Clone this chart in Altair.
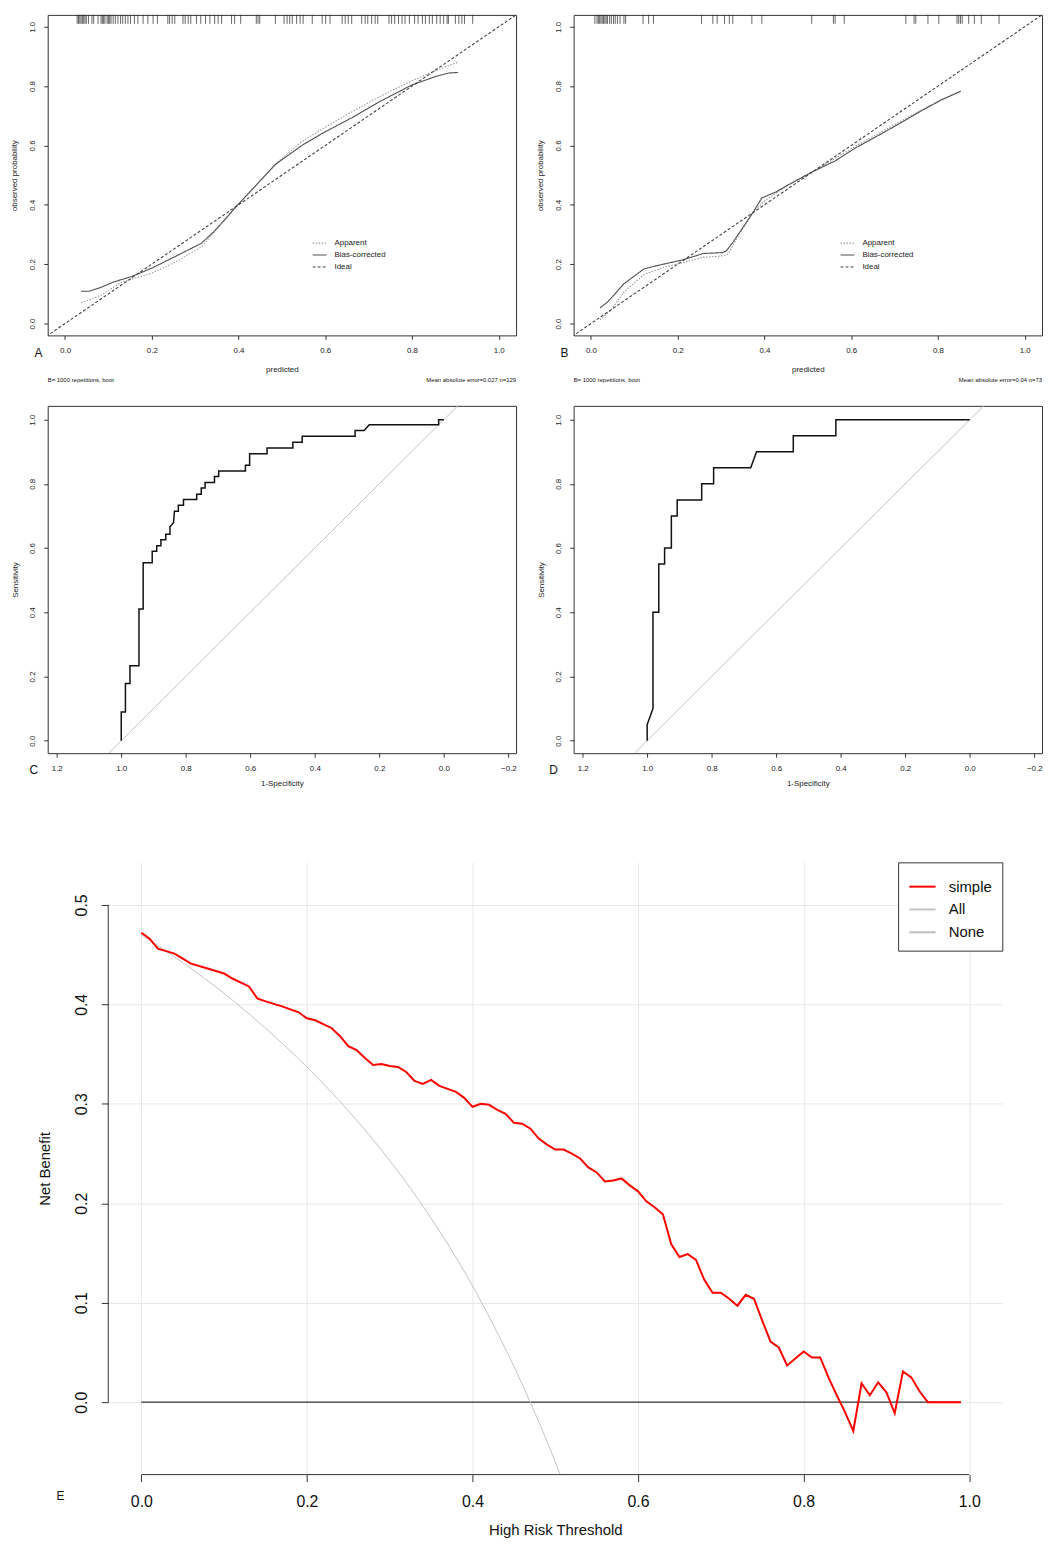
import altair as alt
import pandas as pd

FONT = "Liberation Sans"

# ---------------- data ----------------
TICKS_01 = [0.0, 0.2, 0.4, 0.6, 0.8, 1.0]
TICKS_ROC = [-0.2, 0.0, 0.2, 0.4, 0.6, 0.8, 1.0, 1.2]
TICKS_NB = [0.0, 0.1, 0.2, 0.3, 0.4, 0.5]
CAL_SERIES = ["Apparent", "Bias-corrected", "Ideal"]
DCA_SERIES = ["simple", "All", "None"]

# Panel A (calibration, training)
a_rug = [0.028, 0.031, 0.034, 0.037, 0.040, 0.043, 0.046, 0.049, 0.054, 0.062, 0.066,
         0.076, 0.083, 0.086, 0.089, 0.092, 0.097, 0.100, 0.103, 0.106, 0.111, 0.116,
         0.122, 0.128, 0.133, 0.139, 0.145, 0.151, 0.160, 0.168, 0.180, 0.191, 0.203,
         0.213, 0.237, 0.241, 0.247, 0.253, 0.272, 0.277, 0.284, 0.290, 0.303, 0.313,
         0.324, 0.334, 0.345, 0.353, 0.361, 0.384, 0.391, 0.405, 0.441, 0.445, 0.449,
         0.485, 0.505, 0.512, 0.518, 0.524, 0.534, 0.542, 0.549, 0.570, 0.593, 0.601,
         0.611, 0.639, 0.646, 0.653, 0.661, 0.684, 0.692, 0.698, 0.707, 0.715, 0.721,
         0.747, 0.753, 0.760, 0.769, 0.777, 0.784, 0.794, 0.806, 0.814, 0.824, 0.831,
         0.840, 0.847, 0.857, 0.865, 0.873, 0.881, 0.884, 0.900, 0.908, 0.915, 0.921, 0.940]
a_app_x = [0.037, 0.083, 0.129, 0.199, 0.253, 0.314, 0.353, 0.399, 0.445, 0.492, 0.545,
           0.592, 0.661, 0.723, 0.800, 0.854, 0.908]
a_app_y = [0.070, 0.095, 0.139, 0.169, 0.206, 0.258, 0.323, 0.401, 0.473, 0.546, 0.612,
           0.655, 0.713, 0.763, 0.818, 0.852, 0.882]
a_bias_x = [0.037, 0.056, 0.083, 0.114, 0.153, 0.199, 0.253, 0.314, 0.345, 0.399, 0.438,
            0.484, 0.545, 0.592, 0.661, 0.723, 0.800, 0.854, 0.884, 0.906]
a_bias_y = [0.109, 0.109, 0.122, 0.141, 0.158, 0.186, 0.225, 0.270, 0.312, 0.401, 0.462,
            0.535, 0.599, 0.640, 0.693, 0.746, 0.804, 0.832, 0.844, 0.846]

# Panel B (calibration, validation)
b_rug = [0.009, 0.014, 0.017, 0.020, 0.023, 0.026, 0.029, 0.032, 0.035, 0.038, 0.043,
         0.047, 0.052, 0.056, 0.061, 0.067, 0.076, 0.080, 0.120, 0.133, 0.144, 0.255,
         0.281, 0.291, 0.308, 0.319, 0.327, 0.371, 0.394, 0.509, 0.559, 0.563, 0.584,
         0.726, 0.745, 0.749, 0.777, 0.802, 0.844, 0.848, 0.852, 0.856, 0.871, 0.884,
         0.900, 0.941]
b_app_x = [0.021, 0.046, 0.076, 0.122, 0.167, 0.213, 0.259, 0.304, 0.316, 0.342, 0.373,
           0.399, 0.456, 0.509, 0.563, 0.608, 0.684, 0.760, 0.806, 0.853]
b_app_y = [0.013, 0.045, 0.106, 0.165, 0.189, 0.206, 0.223, 0.228, 0.234, 0.301, 0.373,
           0.412, 0.468, 0.510, 0.557, 0.596, 0.657, 0.718, 0.754, 0.783]
b_bias_x = [0.021, 0.038, 0.076, 0.122, 0.152, 0.213, 0.259, 0.304, 0.312, 0.327, 0.350,
            0.373, 0.394, 0.426, 0.456, 0.509, 0.563, 0.608, 0.684, 0.760, 0.806, 0.853]
b_bias_y = [0.053, 0.072, 0.134, 0.184, 0.195, 0.215, 0.236, 0.239, 0.245, 0.273, 0.323,
            0.373, 0.423, 0.443, 0.468, 0.510, 0.548, 0.590, 0.651, 0.715, 0.752, 0.783]

ideal_x = [-0.1, 1.1]
ideal_y = [-0.1, 1.1]

# Panel C (ROC, training)
c_spec = [1.0, 1.0, 0.987, 0.987, 0.973, 0.973, 0.945, 0.945, 0.932, 0.932, 0.904, 0.904,
          0.890, 0.890, 0.877, 0.877, 0.862, 0.862, 0.849, 0.849, 0.838, 0.835, 0.823, 0.823,
          0.807, 0.807, 0.766, 0.766, 0.752, 0.752, 0.740, 0.740, 0.711, 0.711, 0.698, 0.698,
          0.615, 0.615, 0.602, 0.602, 0.548, 0.548, 0.468, 0.468, 0.439, 0.439, 0.275, 0.275,
          0.247, 0.231, 0.016, 0.016, 0.0]
c_sens = [0.0, 0.089, 0.089, 0.178, 0.178, 0.233, 0.233, 0.410, 0.410, 0.554, 0.554, 0.590,
          0.590, 0.607, 0.607, 0.626, 0.626, 0.643, 0.643, 0.666, 0.679, 0.715, 0.715, 0.733,
          0.733, 0.751, 0.751, 0.768, 0.768, 0.787, 0.787, 0.804, 0.804, 0.823, 0.823, 0.840,
          0.840, 0.858, 0.858, 0.894, 0.894, 0.912, 0.912, 0.930, 0.930, 0.948, 0.948, 0.966,
          0.966, 0.984, 0.984, 1.0, 1.0]

# Panel D (ROC, validation)
d_spec = [1.0, 1.0, 0.982, 0.982, 0.964, 0.964, 0.946, 0.946, 0.925, 0.925, 0.907, 0.907,
          0.831, 0.831, 0.794, 0.794, 0.679, 0.661, 0.547, 0.547, 0.415, 0.415, 0.0]
d_sens = [0.0, 0.05, 0.10, 0.40, 0.40, 0.55, 0.55, 0.60, 0.60, 0.70, 0.70, 0.75,
          0.75, 0.80, 0.80, 0.85, 0.85, 0.90, 0.90, 0.95, 0.95, 1.0, 1.0]

chance_spec = [1.1, -0.1]
chance_sens = [-0.1, 1.1]

# Panel E (decision curve)
e_thr = [0.00, 0.01, 0.02, 0.04, 0.05, 0.06, 0.08, 0.10, 0.11, 0.13, 0.14, 0.15, 0.17, 0.19,
         0.20, 0.21, 0.23, 0.24, 0.25, 0.26, 0.27, 0.28, 0.29, 0.30, 0.31, 0.32, 0.33, 0.34,
         0.35, 0.36, 0.37, 0.38, 0.39, 0.40, 0.41, 0.42, 0.43, 0.44, 0.45, 0.46, 0.47, 0.48,
         0.49, 0.50, 0.51, 0.52, 0.53, 0.54, 0.55, 0.56, 0.57, 0.58, 0.59, 0.60, 0.61, 0.62,
         0.63, 0.64, 0.65, 0.66, 0.67, 0.68, 0.69, 0.70, 0.71, 0.72, 0.73, 0.74, 0.75, 0.76,
         0.77, 0.78, 0.79, 0.80, 0.81, 0.82, 0.83, 0.84, 0.85, 0.86, 0.87, 0.88, 0.89, 0.90,
         0.91, 0.92, 0.93, 0.94, 0.95, 0.99]
e_simple = [0.472, 0.466, 0.456, 0.451, 0.446, 0.441, 0.436, 0.431, 0.426, 0.418, 0.406, 0.403,
            0.398, 0.392, 0.386, 0.384, 0.376, 0.368, 0.358, 0.354, 0.346, 0.339, 0.340, 0.338,
            0.337, 0.332, 0.323, 0.320, 0.324, 0.318, 0.315, 0.312, 0.306, 0.297, 0.300, 0.299,
            0.294, 0.290, 0.281, 0.280, 0.275, 0.265, 0.259, 0.254, 0.254, 0.250, 0.245, 0.236,
            0.231, 0.222, 0.223, 0.225, 0.218, 0.212, 0.202, 0.196, 0.189, 0.159, 0.146, 0.149,
            0.143, 0.123, 0.110, 0.110, 0.104, 0.097, 0.108, 0.104, 0.082, 0.061, 0.055, 0.037,
            0.044, 0.051, 0.045, 0.045, 0.025, 0.007, -0.010, -0.029, 0.019, 0.007, 0.020, 0.010,
            -0.011, 0.031, 0.025, 0.011, 0.000, 0.000]
e_all_thr = [0.0, 0.05, 0.10, 0.15, 0.20, 0.25, 0.30, 0.35, 0.40, 0.425, 0.45, 0.475, 0.50, 0.52]
e_all = [0.470, 0.442, 0.411, 0.376, 0.337, 0.293, 0.243, 0.185, 0.117, 0.078, 0.036, -0.010,
         -0.060, -0.104]
e_none_thr = [0.0, 0.99]
e_none = [0.0, 0.0]

# ---------------- layout constants ----------------
W_AB, H_AB = 472, 323
W_CD, H_CD = 472, 350
W_E, H_E = 901, 617
E_OFF = 61                  # E plot starts this far right of panels A/C
GAP_COL, GAP_R1, GAP_R2 = 58, 69, 108
LEFT_AC = 39                # distance from page content edge to plot left
CAL_DOM = [-0.04, 1.04]
ROC_XDOM = [-0.224, 1.228]
ROC_YDOM = [-0.039, 1.043]
E_XDOM = [-0.04, 1.04]
E_YDOM = [-0.0728, 0.5428]
FRAME = alt.ViewBackground(stroke="#333333", strokeWidth=1)


def ax(**kw):
    base = dict(labelFont=FONT, titleFont=FONT, labelColor="#222222", titleColor="#222222",
                titleFontWeight="normal", labelFlush=False, labelOverlap=False, labelBound=False,
                tickColor="#333333", domain=False)
    base.update(kw)
    return alt.Axis(**base)


def text_layer(x, y, s, X, Y, size, align):
    df = pd.DataFrame({"x": [x], "y": [y], "t": [s]})
    return alt.Chart(df).mark_text(font=FONT, fontSize=size, align=align, baseline="middle",
                                   color="#111111").encode(x=X("x"), y=Y("y"), text="t:N")


def pin(px, py):
    # invisible layout anchor (fixes the extent of a row for the layout)
    return alt.Chart(pd.DataFrame({"v": [0]})).mark_point(size=1, opacity=0).encode(
        x=alt.value(px), y=alt.value(py))


def calib_panel(rug, app_x, app_y, bias_x, bias_y, letter, mae, legx, anchor):
    xs = alt.Scale(domain=CAL_DOM, nice=False, zero=False)
    ys = alt.Scale(domain=CAL_DOM, nice=False, zero=False)
    xax = ax(values=TICKS_01, format=".1f", grid=False, tickSize=4, labelPadding=7, labelFontSize=8,
             title="predicted", titleFontSize=8, titleX=W_AB / 2, titleY=34,
             titleBaseline="middle", titleAlign="center")
    yax = ax(values=TICKS_01, format=".1f", grid=False, tickSize=4, labelPadding=7, labelFontSize=8,
             labelAngle=-90, labelAlign="center", labelBaseline="bottom",
             title="observed probability", titleFontSize=8, titleX=-33, titleY=H_AB / 2,
             titleBaseline="middle", titleAlign="center")

    def X(f):
        return alt.X(f"{f}:Q", scale=xs, axis=xax)

    def Y(f):
        return alt.Y(f"{f}:Q", scale=ys, axis=yax)

    df = pd.DataFrame({
        "x": app_x + bias_x + ideal_x,
        "y": app_y + bias_y + ideal_y,
        "series": ["Apparent"] * len(app_x) + ["Bias-corrected"] * len(bias_x) + ["Ideal"] * len(ideal_x),
        "order": list(range(len(app_x))) + list(range(len(bias_x))) + list(range(len(ideal_x))),
    })
    leg = alt.Legend(title=None, orient="none", legendX=legx, legendY=222, symbolType="stroke",
                     symbolSize=196, symbolStrokeWidth=1.1, labelFont=FONT, labelFontSize=8,
                     labelColor="#222222", labelOffset=7, rowPadding=-1, padding=0)
    lines = alt.Chart(df).mark_line(clip=True, strokeWidth=1.1).encode(
        x=X("x"), y=Y("y"),
        color=alt.Color("series:N", scale=alt.Scale(domain=CAL_SERIES,
                        range=["#9a9a9a", "#505050", "#404040"]), legend=leg),
        strokeDash=alt.StrokeDash("series:N", scale=alt.Scale(domain=CAL_SERIES,
                                  range=[[1.5, 1.5], [1, 0], [3, 2]]), legend=leg),
        order="order:Q",
    )
    rugl = alt.Chart(pd.DataFrame({"x": rug})).mark_rule(color="#222222", strokeWidth=0.7).encode(
        x=X("x"), y=alt.value(0), y2=alt.value(9))
    layers = [
        lines, rugl,
        text_layer(-0.061, -0.10, letter, X, Y, 12, "center"),
        text_layer(-0.04, -0.19, "B= 1000 repetitions, boot", X, Y, 6, "left"),
        text_layer(1.04, -0.19, mae, X, Y, 6, "right"),
    ]
    if anchor:
        layers.append(pin(-LEFT_AC, H_AB + GAP_R1))
    return alt.layer(*layers).properties(width=W_AB, height=H_AB, view=FRAME)


def roc_panel(spec, sens, letter, letter_x, anchor):
    xs = alt.Scale(domain=ROC_XDOM, reverse=True, nice=False, zero=False)
    ys = alt.Scale(domain=ROC_YDOM, nice=False, zero=False)
    xax = ax(values=TICKS_ROC, format=".1f", grid=False, tickSize=4, labelPadding=7, labelFontSize=8,
             title="1-Specificity", titleFontSize=8, titleX=W_CD / 2, titleY=31,
             titleBaseline="middle", titleAlign="center")
    yax = ax(values=TICKS_01, format=".1f", grid=False, tickSize=4, labelPadding=7, labelFontSize=8,
             labelAngle=-90, labelAlign="center", labelBaseline="bottom",
             title="Sensitivity", titleFontSize=8, titleX=-32, titleY=H_CD / 2,
             titleBaseline="middle", titleAlign="center")

    def X(f):
        return alt.X(f"{f}:Q", scale=xs, axis=xax)

    def Y(f):
        return alt.Y(f"{f}:Q", scale=ys, axis=yax)

    chance = alt.Chart(pd.DataFrame({"x": chance_spec, "y": chance_sens})).mark_line(
        clip=True, color="#c4c4c4", strokeWidth=1).encode(x=X("x"), y=Y("y"))
    curve = alt.Chart(pd.DataFrame({"x": spec, "y": sens, "o": list(range(len(spec)))})).mark_line(
        color="#111111", strokeWidth=1.5).encode(x=X("x"), y=Y("y"), order="o:Q")
    layers = [chance, curve, text_layer(letter_x, -0.0915, letter, X, Y, 12, "center")]
    if anchor:
        layers.append(pin(-LEFT_AC, H_CD + GAP_R2))
    return alt.layer(*layers).properties(width=W_CD, height=H_CD, view=FRAME)


def dca_panel():
    xs = alt.Scale(domain=E_XDOM, range=[E_OFF, E_OFF + W_E], nice=False, zero=False)
    ys = alt.Scale(domain=E_YDOM, nice=False, zero=False)
    xax = ax(values=TICKS_01, format=".1f", grid=True, gridColor="#e8e8e8", tickSize=7,
             labelPadding=12, labelFontSize=16, labelColor="#111111",
             title="High Risk Threshold", titleFontSize=15, titleX=E_OFF + W_E / 2, titleY=55,
             titleBaseline="middle", titleAlign="center", titleColor="#111111")
    yax = ax(values=TICKS_NB, format=".1f", grid=True, gridColor="#e8e8e8", tickSize=7,
             labelPadding=12, labelFontSize=16, labelColor="#111111", offset=-E_OFF,
             labelAngle=-90, labelAlign="center", labelBaseline="bottom",
             title="Net Benefit", titleFontSize=15, titleX=-64, titleY=H_E / 2,
             titleBaseline="middle", titleAlign="center", titleColor="#111111")

    def X(f):
        return alt.X(f"{f}:Q", scale=xs, axis=xax)

    def Y(f):
        return alt.Y(f"{f}:Q", scale=ys, axis=yax)

    cscale = alt.Scale(domain=DCA_SERIES, range=["#ff0000", "#c4c4c4", "#bdbdbd"])
    leg = alt.Legend(title=None, orient="top-right", offset=0, padding=10, strokeColor="#333333",
                     fillColor="#ffffff", symbolType="stroke", symbolSize=700, symbolStrokeWidth=2,
                     labelFont=FONT, labelFontSize=15, labelColor="#111111", labelOffset=12,
                     rowPadding=-5)
    none_line = alt.Chart(pd.DataFrame({"x": e_none_thr, "y": e_none})).mark_line(
        color="#333333", strokeWidth=1.3).encode(x=X("x"), y=Y("y"))
    all_line = alt.Chart(pd.DataFrame({"x": e_all_thr, "y": e_all, "s": ["All"] * len(e_all)})).mark_line(
        clip=True, strokeWidth=1, interpolate="monotone").encode(
        x=X("x"), y=Y("y"), color=alt.Color("s:N", scale=cscale, legend=leg))
    simple_line = alt.Chart(pd.DataFrame({"x": e_thr, "y": e_simple, "s": ["simple"] * len(e_thr)})).mark_line(
        clip=True, strokeWidth=2).encode(
        x=X("x"), y=Y("y"), color=alt.Color("s:N", scale=cscale, legend=leg))
    xline = alt.Chart(pd.DataFrame({"x": [TICKS_01[0]], "x2": [TICKS_01[-1]]})).mark_rule(
        color="#333333", strokeWidth=1).encode(x=X("x"), x2="x2:Q", y=alt.value(H_E))
    yline = alt.Chart(pd.DataFrame({"y": [TICKS_NB[0]], "y2": [TICKS_NB[-1]]})).mark_rule(
        color="#333333", strokeWidth=1).encode(y=Y("y"), y2="y2:Q", x=alt.value(E_OFF))
    return alt.layer(
        none_line, all_line, simple_line, xline, yline,
        text_layer(-0.0976, -0.0948, "E", X, Y, 12, "center"),
    ).properties(width=E_OFF + W_E, height=H_E)


A = calib_panel(a_rug, a_app_x, a_app_y, a_bias_x, a_bias_y, "A", "Mean absolute error=0.027 n=129", 266, True)
B = calib_panel(b_rug, b_app_x, b_app_y, b_bias_x, b_bias_y, "B", "Mean absolute error=0.04 n=73", 268, False)
C = roc_panel(c_spec, c_sens, "C", 1.271, True)
D = roc_panel(d_spec, d_sens, "D", 1.29, False)
E = dca_panel()

row1 = alt.hconcat(A, B, spacing=GAP_COL, bounds="flush").resolve_scale(
    color="independent", strokeDash="independent")
row2 = alt.hconcat(C, D, spacing=GAP_COL, bounds="flush")

chart = alt.vconcat(row1, row2, E, spacing=0).resolve_scale(
    color="independent", strokeDash="independent"
).properties(
    padding={"left": 0, "top": 0, "right": 0, "bottom": 0}
).configure(font=FONT).configure_view(stroke="transparent")

chart.save("out.html", embed_options={"renderer": "svg", "actions": False})
